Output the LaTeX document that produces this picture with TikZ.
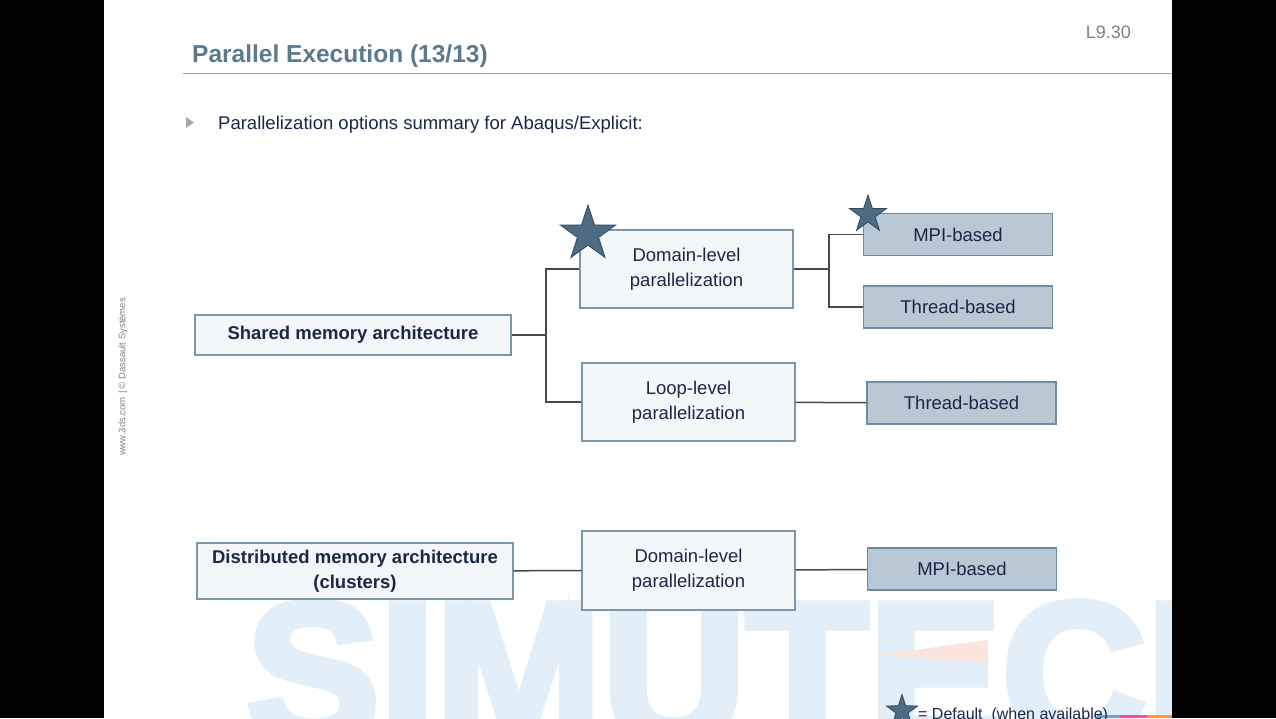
\documentclass[tikz,border=0pt]{standalone}
\usepackage{fontspec}
\setmainfont{Liberation Sans}
\setsansfont{Liberation Sans}
\newfontfamily\markfont[FakeBold=4]{Liberation Sans Bold}
\usetikzlibrary{shapes.geometric}
\definecolor{navy}{HTML}{1B2746}
\definecolor{titleblue}{HTML}{5B7A8F}
\definecolor{rulegrey}{HTML}{9AA5AD}
\definecolor{boxline}{HTML}{7D96A8}
\definecolor{boxfill}{HTML}{F3F7FA}
\definecolor{implline}{HTML}{6F8BA0}
\definecolor{implfill}{HTML}{B8C8D5}
\definecolor{linkgrey}{HTML}{454A4F}
\definecolor{starfill}{HTML}{4D6B83}
\definecolor{starline}{HTML}{34495C}
\definecolor{wmblue}{HTML}{E3EFF8}
\definecolor{wmpink}{HTML}{FBE4DD}
\newcommand\slidefont{\fontsize{18.5}{25}\selectfont}
\tikzset{
  archbox/.style={draw=boxline, fill=boxfill, line width=1.3pt, text=navy,
    align=center, inner sep=0pt, font=\slidefont\bfseries},
  levelbox/.style={draw=boxline, fill=boxfill, line width=1.3pt, text=navy,
    align=center, inner sep=0pt, minimum width=213pt, minimum height=78pt, font=\slidefont},
  implbox/.style={draw=implline, fill=implfill, line width=1.3pt, text=navy,
    align=center, inner sep=0pt, minimum width=189pt, minimum height=42pt, font=\slidefont},
  link/.style={draw=linkgrey, line width=1.5pt},
  default/.style={star, star points=5, star point ratio=2.6, fill=starfill,
    draw=starline, line width=0.8pt, inner sep=0pt}
}
\begin{document}
\begin{tikzpicture}[x=1pt,y=-1pt]
\useasboundingbox (0,0) rectangle (1276,718);
\fill[white] (104,0) rectangle (1172,718);

% watermark
\begin{scope}
\clip (104,0) rectangle (1172,718);
\node[text=wmblue, anchor=base west, inner sep=0pt,
  font=\fontsize{200}{200}\markfont] (mark) at (246,742) {SIMUTECH};
\fill[wmpink] (877,655) -- (988,640) -- (988,663) -- cycle;
\end{scope}

% side bars
\fill[black] (0,0) rectangle (104,718);
\fill[black] (1172,0) rectangle (1276,718);
\fill[cyan!60!blue!60] (1097,715) rectangle (1120,718);
\fill[magenta!60!pink] (1120,715) rectangle (1147,718);
\fill[orange!80] (1147,715) rectangle (1172,718);

% header
\node[anchor=base west, inner sep=0pt, text=titleblue,
  font=\fontsize{24.5}{30}\selectfont\bfseries] (title) at (192,62) {Parallel Execution (13/13)};
\draw[rulegrey, line width=1pt] (183,73) -- (1172,73);
\node[anchor=base east, inner sep=0pt, text=gray, font=\fontsize{18}{22}\selectfont] (page) at (1131,38) {L9.30};
\fill[gray!70] (186,117) -- (194,122.5) -- (186,128) -- cycle;
\node[anchor=base west, inner sep=0pt, text=navy, font=\slidefont] (intro) at (218,129)
  {Parallelization options summary for Abaqus/Explicit:};
\node[rotate=90, inner sep=0pt, text=gray, font=\fontsize{9.5}{11}\selectfont] (copy) at (123,377)
  {www.3ds.com \,|\,\copyright\ Dassault Systèmes};

% shared memory tree
\node[archbox, minimum width=316pt, minimum height=40pt] (shared) at (353,335) {Shared memory architecture};
\node[levelbox] (domainA) at (686.5,269) {Domain-level\\parallelization};
\node[levelbox] (loop) at (688.5,402) {Loop-level\\parallelization};
\node[implbox] (mpiA) at (958,234.5) {MPI-based};
\node[implbox] (threadA) at (958,307) {Thread-based};
\node[implbox] (threadB) at (961.5,403) {Thread-based};

\coordinate (forkA) at (546,335);
\coordinate (forkB) at (829,269);
\draw[link] (shared) -- (forkA);
\draw[link] (forkA) |- (domainA);
\draw[link] (forkA) |- (loop);
\draw[link] (domainA) -- (forkB);
\draw[link] (forkB) |- (mpiA);
\draw[link] (forkB) |- (threadA);
\draw[link] (loop) -- (threadB);

% distributed memory chain
\node[archbox, minimum width=316pt, minimum height=56pt] (distrib) at (355,571)
  {Distributed memory architecture\\(clusters)};
\node[levelbox, minimum height=79pt] (domainB) at (688.5,570.5) {Domain-level\\parallelization};
\node[implbox] (mpiB) at (962,569) {MPI-based};
\draw[link] (distrib) -- (domainB);
\draw[link] (domainB) -- (mpiB);

% defaults
\node[default, minimum size=58pt] (starA) at (588,234) {};
\node[default, minimum size=39pt] (starB) at (868,214.5) {};
\node[default, minimum size=33pt] (starKey) at (902,711) {};
\node[anchor=base west, inner sep=0pt, text=navy, font=\fontsize{16}{19}\selectfont] (key) at (918,719)
  {= Default\ \ (when available)};
\end{tikzpicture}
\end{document}
